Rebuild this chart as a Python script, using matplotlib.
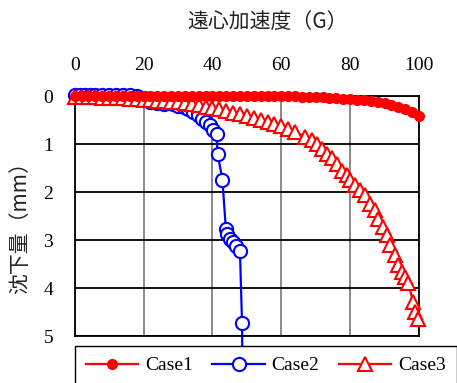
import matplotlib.pyplot as plt

# 遠心載荷試験: 遠心加速度と沈下量
g_case1 = [0, 2, 4, 6, 8, 10, 12, 14, 16, 18, 20, 22, 24, 26, 28, 30, 32, 34, 36, 38,
           40, 42, 44, 46, 48, 50, 52, 54, 56, 58, 60, 62, 64, 66, 68, 70, 72, 74, 76, 78,
           80, 82, 84, 86, 88, 90, 92, 94, 96, 98, 100]
s_case1 = [0.0, 0.0, 0.0, 0.0, 0.0, 0.0, -0.01, 0.0, 0.0, 0.0, 0.0, 0.0, 0.0, 0.0, 0.0, 0.0, 0.0,
           0.0, 0.0, 0.0, 0.0, 0.0, 0.0, 0.0, 0.0, 0.0, 0.0, 0.0, 0.0, 0.0, 0.0, 0.01, 0.01,
           0.02, 0.02, 0.03, 0.03, 0.04, 0.05, 0.06, 0.07, 0.08, 0.09, 0.11, 0.13, 0.15,
           0.18, 0.23, 0.28, 0.34, 0.41]

g_case2 = [0, 1.5, 3, 4.5, 6, 8, 10, 12, 14, 16, 18, 20, 22, 24, 26, 28.6, 30.1, 31.6, 33.0,
           34.5, 35.9, 37.1, 38.1, 39.3, 40.3, 41.2, 41.5, 42.9, 43.9, 44.3, 45.1, 46.1,
           46.8, 48.0, 48.6, 48.9]
s_case2 = [-0.02, -0.03, -0.02, -0.03, -0.02, -0.03, -0.02, -0.03, -0.02, -0.02, 0.0, 0.05,
           0.12, 0.15, 0.17, 0.17, 0.20, 0.22, 0.26, 0.33, 0.40, 0.47, 0.54, 0.61, 0.70,
           0.78, 1.20, 1.74, 2.76, 2.88, 2.97, 3.04, 3.13, 3.23, 4.72, 6.8]

g_case3 = [0, 2, 4, 6, 8, 10, 12, 14, 16, 18, 20, 22, 24, 26, 28, 30, 32, 34, 36, 38, 40,
           42, 44, 46, 48, 50, 52, 54, 56, 58, 60, 62, 64, 66.9, 68.8, 70.3, 71.7, 73.2,
           74.6, 76.1, 77.5, 79.0, 80.0, 81.4, 82.9, 84.3, 85.8, 87.2, 88.2, 89.6, 90.6,
           91.6, 93.0, 94.0, 95.0, 95.9, 96.9, 98.3, 98.8, 99.8]
s_case3 = [0.02, 0.02, 0.03, 0.03, 0.04, 0.04, 0.05, 0.05, 0.06, 0.07, 0.08, 0.09, 0.10,
           0.11, 0.12, 0.13, 0.15, 0.17, 0.19, 0.22, 0.25, 0.28, 0.31, 0.35, 0.38, 0.42,
           0.46, 0.50, 0.54, 0.58, 0.63, 0.68, 0.74, 0.85, 0.92, 0.99, 1.10, 1.20, 1.30,
           1.41, 1.55, 1.65, 1.75, 1.86, 1.96, 2.07, 2.24, 2.38, 2.55, 2.72, 2.90, 3.11,
           3.31, 3.52, 3.66, 3.76, 3.90, 4.28, 4.49, 4.63]

x_ticks = [0, 20, 40, 60, 80, 100]
y_ticks = [0, 1, 2, 3, 4, 5]

jp_font = ['Noto Sans CJK JP', 'DejaVu Sans']
num_font = 'Liberation Serif'

fig = plt.figure(figsize=(4.57, 3.83), dpi=100)
ax = fig.add_axes([0.1635, 0.1219, 0.7533, 0.6274])

ax.plot(g_case2, s_case2, color='#0000ff', lw=1.6, marker='o', ms=9.5,
        mfc='white', mec='#0000ff', mew=1.5, clip_on=False, zorder=2, label='Case2')
ax.plot(g_case3, s_case3, color='#ff0000', lw=1.6, marker='^', ms=9.5,
        mfc='white', mec='#ff0000', mew=1.5, clip_on=False, zorder=3, label='Case3')
ax.plot(g_case1, s_case1, color='#ff0000', lw=1.6, marker='o', ms=7,
        mfc='#ff0000', mec='#ff0000', clip_on=False, zorder=4, label='Case1')

ax.set_xlim(0, 100)
ax.set_ylim(5, 0)
ax.set_xticks(x_ticks)
ax.set_yticks(y_ticks)
ax.xaxis.tick_top()
ax.tick_params(axis='x', length=0, pad=16, labelsize=14)
ax.tick_params(axis='y', length=0, pad=19, labelsize=14)
for lab in ax.get_xticklabels():
    lab.set_fontfamily(num_font)
for lab in ax.get_yticklabels():
    lab.set_fontfamily(num_font)
    lab.set_horizontalalignment('center')

ax.xaxis.grid(True, color='#808080', lw=1.3)
ax.yaxis.grid(True, color='black', lw=1.3)
ax.set_axisbelow(True)
for sp in ax.spines.values():
    sp.set_linewidth(1.3)
    sp.set_color('black')

fig.text(268 / 457, 1 - 22 / 383, '遠心加速度（G）', family=jp_font, fontsize=15,
         ha='center', va='center', color='#222222')
fig.text(20 / 457, 1 - 223 / 383, '沈下量（mm）', family=jp_font, fontsize=15,
         ha='center', va='center', rotation=90, color='#222222')

handles, labels = ax.get_legend_handles_labels()
order = [2, 0, 1]
leg = ax.legend([handles[i] for i in order], [labels[i] for i in order],
                ncol=3, loc='upper left', bbox_to_anchor=(75 / 457, 1 - 346 / 383),
                bbox_transform=fig.transFigure, borderaxespad=0, fancybox=False,
                framealpha=1, edgecolor='black', handlelength=2.7, handletextpad=0.35,
                columnspacing=1.0, borderpad=0.55, prop={'family': num_font, 'size': 14})
leg.get_frame().set_linewidth(1.0)

fig.savefig('out.png', dpi=100)
